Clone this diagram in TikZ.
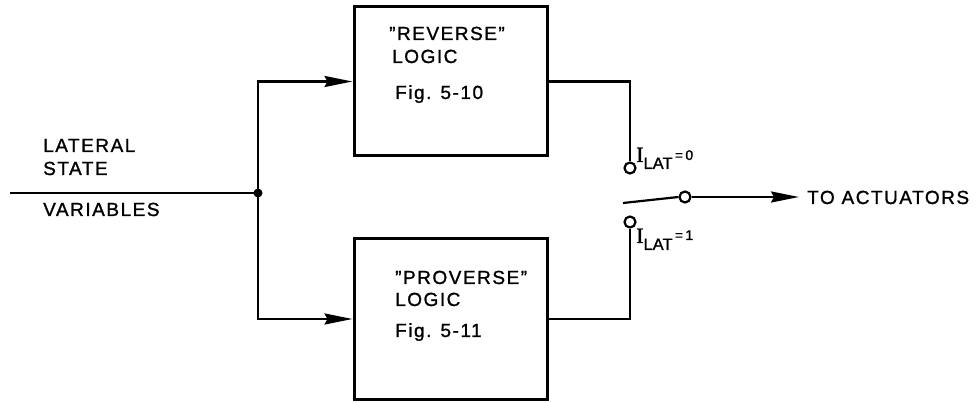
\documentclass[tikz,border=0pt]{standalone}
\usepackage{fontspec}
\setmainfont{Liberation Sans}
\newfontfamily\serifI{Liberation Serif}
\usetikzlibrary{arrows.meta}
\begin{document}
\begin{tikzpicture}[x=1pt,y=-1pt,
  blk/.style={draw,line width=3pt,minimum width=193pt,inner sep=0},
  wire/.style={line width=2.2pt},
  arr/.style={wire,-{Stealth[length=28pt,width=11pt,inset=3pt]}},
  term/.style={circle,draw,line width=2.2pt,minimum size=11pt,inner sep=0,fill=white},
  dot/.style={circle,fill,minimum size=9pt,inner sep=0},
  txt/.style={anchor=base west,inner sep=0,font=\fontsize{19}{21}\selectfont\addfontfeature{LetterSpace=8,FakeBold=1.2}},
  bigI/.style={anchor=base west,inner sep=0}
]
\useasboundingbox (0,0) rectangle (980,403);

% blocks
\node[blk,minimum height=149pt] (top) at (450.5,81.5) {};
\node[blk,minimum height=160pt] (bot) at (450.5,319) {};

% block texts
\node[txt] (t1) at (389,40) {"REVERSE"};
\node[txt] (t2) at (392,63) {LOGIC};
\node[txt] (t3) at (395,99) {Fig. 5-10};
\node[txt] (b1) at (395,284) {"PROVERSE"};
\node[txt] (b2) at (395,306) {LOGIC};
\node[txt] (b3) at (395,337) {Fig. 5-11};

% input
\coordinate (in) at (10,193);
\node[dot] (jn) at (258,193) {};
\draw[wire] (in) -- (jn.center);
\draw[arr] (jn.center) |- (top.west);
\draw[arr] (jn.center) |- (bot.west);

\node[txt] (l1) at (43,152) {LATERAL};
\node[txt] (l2) at (43,175) {STATE};
\node[txt] (l3) at (43,216) {VARIABLES};

% switch
\node[term] (s0) at (630,168) {};
\node[term] (s1) at (630,222) {};
\node[term] (pv) at (685,197) {};
\coordinate (arm) at (623,203);
\coordinate (tip) at (799,197);
\draw[wire] (top.east) -| (s0.north);
\draw[wire] (bot.east) -| (s1.south);
\draw[wire] (arm) -- (pv.west);
\draw[arr] (pv.east) -- (tip);

\node[txt] (act) at (807,204) {TO ACTUATORS};

% I_LAT labels
\node[bigI] (i0) at (636,162) {{\serifI\fontsize{22}{22}\selectfont\addfontfeature{FakeBold=1.2}I}\raisebox{-7pt}{\fontsize{16.5}{17}\selectfont\addfontfeature{FakeBold=1.2}LAT}\raisebox{2pt}{\fontsize{14}{14}\selectfont\addfontfeature{FakeBold=1.2}\,=\,0}};
\node[bigI] (i1) at (636,243) {{\serifI\fontsize{22}{22}\selectfont\addfontfeature{FakeBold=1.2}I}\raisebox{-7pt}{\fontsize{16.5}{17}\selectfont\addfontfeature{FakeBold=1.2}LAT}\raisebox{3pt}{\fontsize{14}{14}\selectfont\addfontfeature{FakeBold=1.2}\,=\,1}};
\end{tikzpicture}
\end{document}
